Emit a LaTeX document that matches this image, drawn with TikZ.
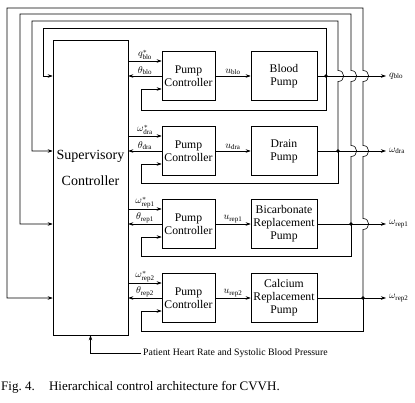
\documentclass[tikz,border=0pt]{standalone}
\usepackage{fontspec}
\setmainfont{Liberation Serif}
\usetikzlibrary{arrows.meta}
\tikzset{
  blk/.style={draw,line width=0.6pt,align=center,inner sep=1pt},
  ctrl/.style={blk,minimum width=53pt,minimum height=49pt,font=\fontsize{11.7}{13}\selectfont},
  pump/.style={ctrl,minimum width=66pt},
  wire/.style={line width=0.6pt},
  sig/.style={wire,-{Stealth[length=5pt,width=3.5pt]}},
  lab/.style={inner sep=1pt,font=\fontsize{10}{12}\selectfont},
  hop/.style 2 args={insert path={-- (#1,#2+5.5) .. controls (#1+7.5,#2+5.5) and (#1+7.5,#2-5.5) .. (#1,#2-5.5)}}
}
\begin{document}
\begin{tikzpicture}[x=1pt,y=-1pt]
    \useasboundingbox (0,0) rectangle (415,402);
    % 监督控制器
    \node[blk,minimum width=75pt,minimum height=295pt] (sup) at (90.5,187.5) {};
    \node[align=center,font=\fontsize{14}{26}\selectfont] (suplab) at (90.5,168) {Supervisory\\Controller};

    % 四个泵回路
    \foreach \i/\yc/\dx/\by/\q/\nm/\pname in {
        1/76/326/110/q/blo/{Blood\\Pump},
        2/151/338/183/\omega/dra/{Drain\\Pump},
        3/224/351/256/\omega/rep1/{Bicarbonate\\Replacement\\Pump},
        4/298/363/331/\omega/rep2/{Calcium\\Replacement\\Pump}}{
      \node[ctrl] (pc\i) at (188.5,\yc) {Pump\\Controller};
      \node[pump] (pp\i) at (284,\yc) {\pname};
      \coordinate (d\i) at (\dx,\yc);
      \coordinate (r\i) at ([yshift=15pt]pc\i.west);
      \coordinate (l\i) at ([yshift=-13pt]pc\i.west);
      \draw[sig] (r\i -| sup.east) -- (r\i);
      \draw[sig] (pc\i.west) -- (pc\i.west -| sup.east);
      \draw[sig] (pc\i.east) -- (pp\i.west);
      \draw[wire] (pp\i.east) -- (d\i);
      \draw[sig] (d\i) |- (141,\by) |- (l\i);
      \node[lab,anchor=west] (ol\i) at (388,\yc) {$\q_{\mathrm{\nm}}$};
      \draw[sig,shorten >=2pt] (d\i) -- (ol\i.west);
      \node[lab,above] (rl\i) at (145,\yc-15) {$\q^*_{\mathrm{\nm}}$};
      \node[lab,above] (tl\i) at (145,\yc) {$\theta_{\mathrm{\nm}}$};
      \node[lab,above] (ul\i) at (233,\yc) {$u_{\mathrm{\nm}}$};
    }

    % 外环反馈
    \draw[sig] (d1) |- (43,28) |- (sup.west |- d1);
    \draw[sig] (d2) [hop={338}{76}] |- (32,21) |- (sup.west |- d2);
    \draw[sig] (d3) [hop={351}{151}] [hop={351}{76}] |- (20,14) |- (sup.west |- d3);
    \draw[sig] (d4) [hop={363}{224}] [hop={363}{151}] [hop={363}{76}] |- (7,8) |- (sup.west |- d4);
    \foreach \i in {1,...,4} \fill (d\i) circle (1.8);

    % 病人信号
    \node[anchor=west,inner sep=2pt,font=\fontsize{9.8}{12}\selectfont] (pat) at (141,353) {Patient Heart Rate and Systolic Blood Pressure};
    \draw[sig] (pat.west) -| (sup.south);

    \node[anchor=west,inner sep=0pt,font=\fontsize{13}{15}\selectfont] (cap) at (1,387) {Fig.~4.\hspace{1.1em}Hierarchical control architecture for CVVH.};
\end{tikzpicture}
\end{document}
